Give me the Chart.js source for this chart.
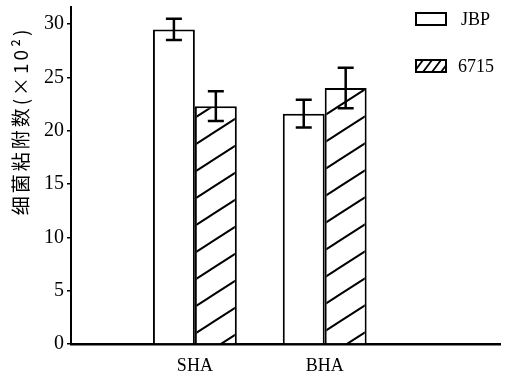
<!DOCTYPE html>
<html>
<head>
<meta charset="utf-8">
<script src="https://cdn.jsdelivr.net/npm/chart.js@4"></script>
<style>
  html, body { margin: 0; padding: 0; background: #fff; }
  #wrap { width: 511px; height: 377px; }
</style>
</head>
<body>
<div id="wrap"><canvas id="chart" width="511" height="377"></canvas></div>
<script>
// data
const groups = ["SHA", "BHA"];
const seriesNames = ["JBP", "6715"];
const jbpValues = [29.5, 21.6];
const jbpErrors = [1.0, 1.3];
const s6715Values = [22.3, 24.0];
const s6715Errors = [1.4, 1.9];
const yTicks = [0, 5, 10, 15, 20, 25, 30];
const yTitle = "细菌粘附数(×10²)";

// hatch pattern (tile size w x h, one diagonal per tile)
function makeHatch(w, h, lw) {
    const c = document.createElement("canvas");
    c.width = w; c.height = h;
    const g = c.getContext("2d");
    g.fillStyle = "#fff";
    g.fillRect(0, 0, w, h);
    g.strokeStyle = "#000";
    g.lineWidth = lw;
    g.beginPath();
    for (let k = -1; k <= 2; k++) {
        g.moveTo(-w, h * k + 2 * h);
        g.lineTo(2 * w, h * k - h);
    }
    g.stroke();
    return document.createElement("canvas").getContext("2d").createPattern(c, "repeat");
}
const hatch = makeHatch(42, 27, 2);
const legendHatch = makeHatch(9, 12, 1.8);

const toPoints = vals => vals.map((v, i) => ({ x: i + 1, y: v }));

// error bars, y title and legend drawn on top
const extras = {
    id: "extras",
    afterDatasetsDraw(chart) {
        const ctx = chart.ctx;
        const ys = chart.scales.y;
        ctx.save();
        ctx.strokeStyle = "#000";
        ctx.lineWidth = 2.5;
        chart.data.datasets.forEach((ds, di) => {
            const meta = chart.getDatasetMeta(di);
            meta.data.forEach((bar, i) => {
                const v = ds.data[i].y, e = ds.errors[i];
                const top = ys.getPixelForValue(v + e);
                const bot = ys.getPixelForValue(v - e);
                ctx.beginPath();
                ctx.moveTo(bar.x, top); ctx.lineTo(bar.x, bot);
                ctx.moveTo(bar.x - 8, top); ctx.lineTo(bar.x + 8, top);
                ctx.moveTo(bar.x - 8, bot); ctx.lineTo(bar.x + 8, bot);
                ctx.stroke();
            });
        });

        // y axis title
        ctx.fillStyle = "#000";
        ctx.font = "19px 'Noto Sans CJK SC'";
        ctx.letterSpacing = "3px";
        ctx.textAlign = "center";
        ctx.textBaseline = "middle";
        ctx.translate(21, 121);
        ctx.rotate(-Math.PI / 2);
        ctx.fillText(yTitle, 0, 0);
        ctx.restore();

        // legend
        ctx.save();
        ctx.lineWidth = 2;
        ctx.strokeStyle = "#000";
        ctx.font = "18px 'Liberation Serif'";
        ctx.textBaseline = "middle";
        const rows = [19, 66];
        const swatches = ["#fff", legendHatch];
        chart.data.datasets.forEach((ds, di) => {
            const y = rows[di];
            ctx.fillStyle = swatches[di];
            ctx.fillRect(416, y - 6, 30, 12);
            ctx.strokeRect(416, y - 6, 30, 12);
            ctx.fillStyle = "#000";
            ctx.fillText(ds.label, di === 0 ? 461 : 458, y + 1);
        });
        ctx.restore();
    }
};

const ctx = document.querySelector("#chart").getContext("2d");

new Chart(ctx, {
    type: "bar",
    data: {
        datasets: [{
            label: seriesNames[0],
            data: toPoints(jbpValues),
            errors: jbpErrors,
            backgroundColor: "#fff",
            borderColor: "#000",
            borderWidth: 2
        }, {
            label: seriesNames[1],
            data: toPoints(s6715Values),
            errors: s6715Errors,
            backgroundColor: hatch,
            borderColor: "#000",
            borderWidth: 2
        }]
    },
    options: {
        responsive: false,
        animation: false,
        categoryPercentage: 0.646,
        barPercentage: 1,
        layout: { padding: { left: 0, right: 11, top: 7, bottom: 0 } },
        plugins: {
            legend: { display: false },
            tooltip: { enabled: false }
        },
        scales: {
            x: {
                type: "linear",
                offset: false,
                min: 0.046,
                max: 3.35,
                afterBuildTicks: s => { s.ticks = groups.map((g, i) => ({ value: i + 1 })); },
                afterFit: s => { s.height = 33; },
                border: { color: "#000", width: 2.5 },
                grid: { display: false },
                ticks: {
                    color: "#000",
                    padding: 3,
                    maxRotation: 0,
                    font: { family: "Liberation Serif", size: 18 },
                    callback: v => groups[v - 1]
                }
            },
            y: {
                min: 0,
                max: 31.6,
                afterBuildTicks: s => { s.ticks = yTicks.map(v => ({ value: v })); },
                afterFit: s => { s.width = 71; s.paddingTop = 0; s.paddingBottom = 0; },
                border: { color: "#000", width: 2 },
                grid: { drawOnChartArea: false, color: "#000", tickLength: 4, lineWidth: 1.5 },
                ticks: {
                    color: "#000",
                    padding: 3,
                    font: { family: "Liberation Serif", size: 20 }
                }
            }
        }
    },
    plugins: [extras]
});
</script>
</body>
</html>
